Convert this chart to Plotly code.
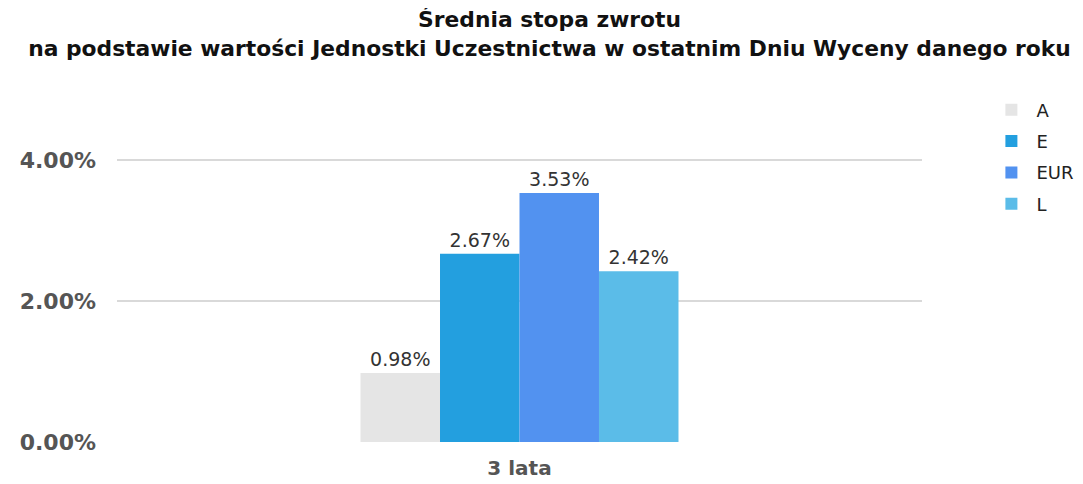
import plotly.graph_objects as go

KATEGORIE = ["3 lata"]
SERIE = ["A", "E", "EUR", "L"]
WARTOSCI = [0.98, 2.67, 3.53, 2.42]
KOLORY = ["#e5e5e5", "#239fdf", "#5292f0", "#5bbce8"]
TICKI = [0, 2, 4]
TICK_ETYKIETY = ["0.00%", "2.00%", "4.00%"]

fig = go.Figure()
for nazwa, wartosc, kolor in zip(SERIE, WARTOSCI, KOLORY):
    fig.add_trace(
        go.Bar(
            x=KATEGORIE,
            y=[wartosc],
            name=nazwa,
            legendgroup=nazwa,
            marker=dict(color=kolor, line_width=0),
            text=[f"{wartosc:.2f}%"],
            textposition="outside",
            textfont=dict(size=19, color="#333333", family="DejaVu Sans"),
            cliponaxis=False,
        )
    )

fig.update_layout(
    width=1083,
    height=484,
    template="plotly_white",
    paper_bgcolor="#ffffff",
    plot_bgcolor="#ffffff",
    barmode="group",
    bargap=0.605,
    bargroupgap=0,
    margin=dict(l=107, r=166, t=92, b=50),
    font=dict(family="DejaVu Sans", color="#333333"),
    title=dict(
        text="<b>Średnia stopa zwrotu<br>na podstawie wartości Jednostki Uczestnictwa w ostatnim Dniu Wyceny danego roku</b>",
        x=0.5,
        xref="container",
        xanchor="center",
        yref="container",
        y=0.96,
        yanchor="top",
        font=dict(size=21.8, color="#111111", family="DejaVu Sans"),
    ),
    legend=dict(
        x=1.08,
        y=1.025,
        xanchor="left",
        yanchor="top",
        font=dict(size=18, color="#222222"),
        tracegroupgap=5,
        itemwidth=40,
    ),
    showlegend=True,
)
fig.update_xaxes(
    showgrid=False,
    showline=False,
    tickfont=dict(size=20, color="#555555", weight="bold"),
    ticks="",
    ticklabelstandoff=12,
)
fig.update_yaxes(
    range=[0, 4.85],
    tickvals=TICKI,
    ticktext=TICK_ETYKIETY,
    gridcolor="#d9d9d9",
    gridwidth=1.5,
    zeroline=False,
    tickfont=dict(size=22, color="#555555", family="DejaVu Sans", weight="bold"),
    ticklabelstandoff=20,
)

fig.write_html("out.html")
